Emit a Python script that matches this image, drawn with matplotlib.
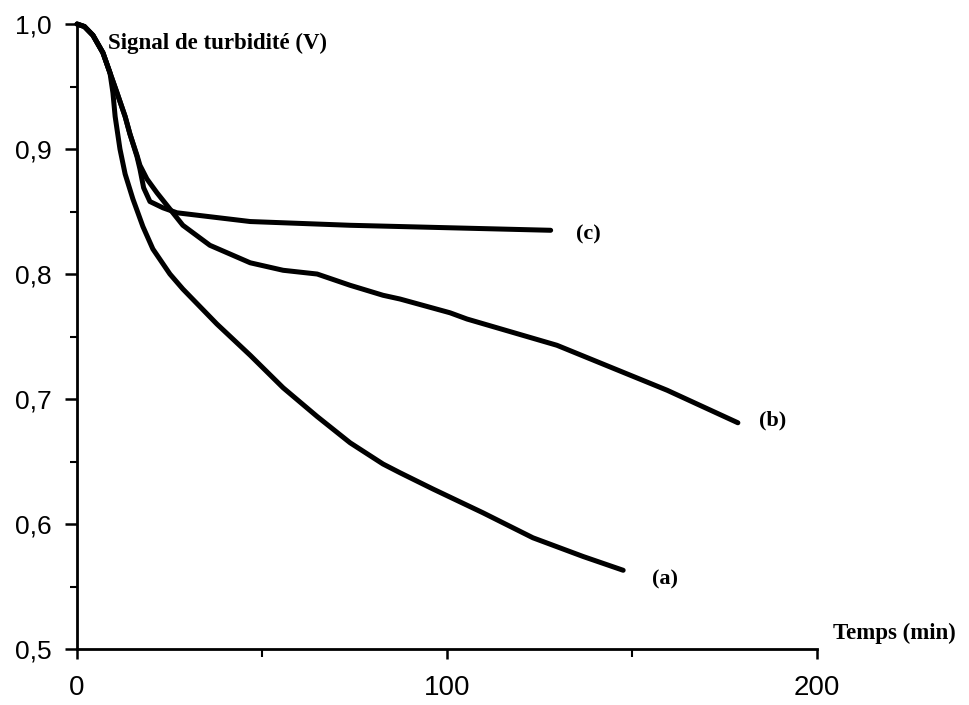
import matplotlib
matplotlib.use("Agg")
import matplotlib.pyplot as plt
from matplotlib.ticker import MultipleLocator

# courbes (temps en min, signal en V)
t_a = [0, 2, 4.3, 7.0, 8.9, 9.7, 10.3, 11.6, 13.0, 15.1, 17.8, 20.5, 25.1, 28.6, 33.2, 37.8,
       46.8, 55.7, 64.9, 73.8, 82.7, 87.3, 96.2, 109.7, 123.2, 136.8, 147.6]
s_a = [1.0, 0.998, 0.991, 0.977, 0.961, 0.945, 0.926, 0.900, 0.880, 0.860, 0.838, 0.820,
       0.800, 0.788, 0.774, 0.760, 0.735, 0.709, 0.686, 0.665, 0.648, 0.641, 0.628, 0.609,
       0.589, 0.574, 0.563]

t_b = [0, 2, 4.3, 7.0, 8.9, 10.8, 13.0, 14.3, 16.2, 17.0, 18.9, 21.6, 25.1, 28.6, 35.9, 46.8,
       55.7, 64.9, 73.8, 82.7, 87.3, 100.8, 105.4, 129.7, 159.5, 178.6]
s_b = [1.0, 0.998, 0.991, 0.977, 0.961, 0.945, 0.926, 0.912, 0.895, 0.887, 0.876, 0.865,
       0.852, 0.839, 0.823, 0.809, 0.803, 0.80, 0.791, 0.783, 0.780, 0.769, 0.764, 0.743,
       0.707, 0.681]

t_c = [0, 2, 4.3, 7.0, 8.9, 10.8, 13.0, 14.3, 16.2, 17.0, 18.0, 19.7, 23.2, 27.0, 46.8, 73.8,
       100.8, 128]
s_c = [1.0, 0.998, 0.991, 0.977, 0.961, 0.945, 0.926, 0.912, 0.894, 0.884, 0.869, 0.858,
       0.853, 0.849, 0.842, 0.839, 0.837, 0.835]

labels = ['(a)', '(b)', '(c)']
label_pos = [(158.9, 0.556), (188.1, 0.683), (138.1, 0.832)]
yticks = [0.5, 0.6, 0.7, 0.8, 0.9, 1.0]
ytick_labels = ['0,5', '0,6', '0,7', '0,8', '0,9', '1,0']
xticks = [0, 100, 200]

fig = plt.figure(figsize=(9.69, 7.05), dpi=100)
ax = fig.add_axes([0.0795, 0.0794, 0.7637, 0.8865])

for t, s in [(t_a, s_a), (t_b, s_b), (t_c, s_c)]:
    ax.plot(t, s, color='black', lw=3.6, solid_capstyle='round',
            solid_joinstyle='round', clip_on=False)

serif = ['Liberation Serif', 'DejaVu Serif']
for lab, (x, y) in zip(labels, label_pos):
    ax.text(x, y, lab, family=serif, fontsize=16, fontweight='bold',
            ha='center', va='center')

ax.set_xlim(0, 200)
ax.set_ylim(0.5, 1.0)
ax.spines['top'].set_visible(False)
ax.spines['right'].set_visible(False)
ax.spines['left'].set_linewidth(2.0)
ax.spines['bottom'].set_linewidth(2.0)

ax.set_yticks(yticks)
ax.set_yticklabels(ytick_labels)
ax.yaxis.set_minor_locator(MultipleLocator(0.05))
ax.set_xticks(xticks)
ax.xaxis.set_minor_locator(MultipleLocator(50))

sans = ['Liberation Sans', 'DejaVu Sans']
for lab in ax.get_yticklabels():
    lab.set_family(sans)
    lab.set_fontsize(19)
for lab in ax.get_xticklabels():
    lab.set_family(sans)
    lab.set_fontsize(20)

ax.tick_params(axis='y', which='major', direction='out', length=9, width=1.8, pad=9)
ax.tick_params(axis='y', which='minor', direction='out', length=5, width=1.5)
ax.tick_params(axis='x', which='major', direction='out', length=7, width=1.8, pad=12)
ax.tick_params(axis='x', which='minor', direction='out', length=6, width=1.5)

fig.text(0.111, 0.939, 'Signal de turbidité (V)', family=serif, fontsize=16.5,
         fontweight='bold', va='center')
fig.text(0.860, 0.102, 'Temps (min)', family=serif, fontsize=16.5,
         fontweight='bold', va='center')

plt.savefig('out.png', dpi=100)
